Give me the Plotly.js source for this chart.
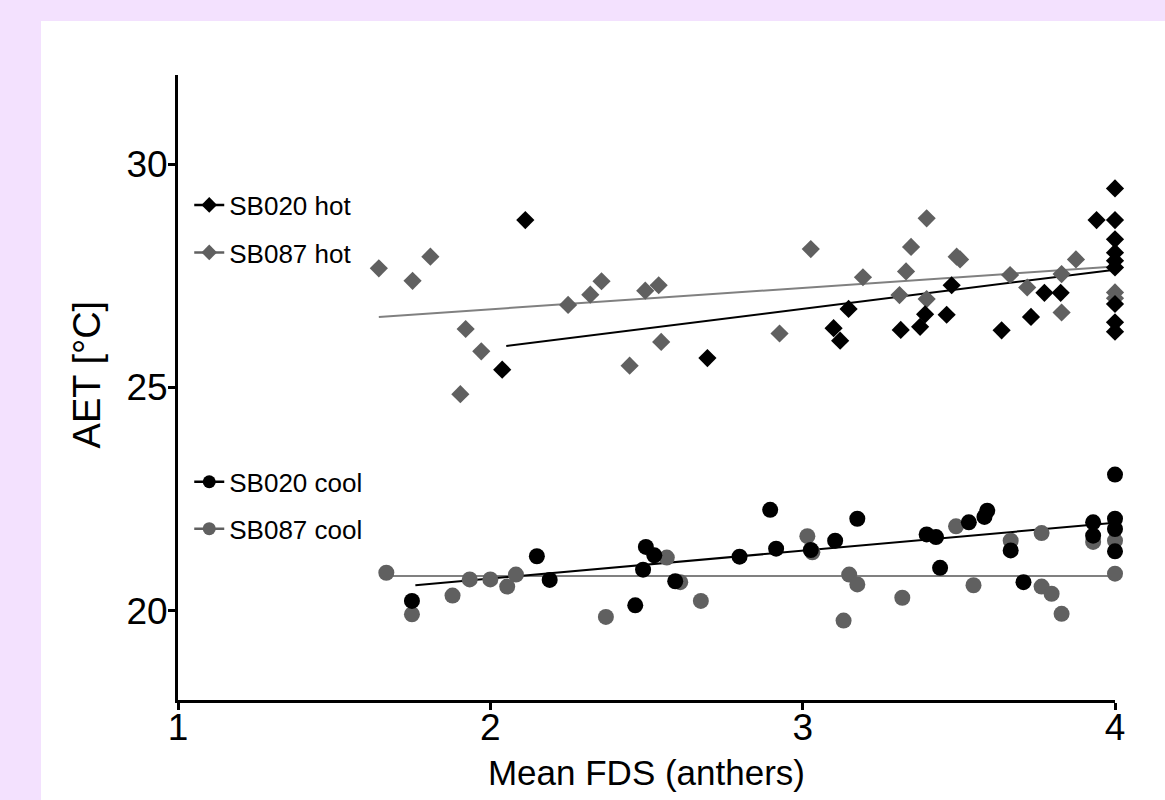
<!DOCTYPE html>
<html>
<head>
<meta charset="utf-8">
<script src="https://cdn.plot.ly/plotly-3.0.1.min.js"></script>
<style>
  html, body { margin: 0; padding: 0; width: 1165px; height: 800px; background: #F3E1FE; overflow: hidden; }
  #chart { position: absolute; left: 41px; top: 21px; width: 1124px; height: 779px; background: #ffffff; }
</style>
</head>
<body>
<div id="chart"></div>
<script>
// ---- data ----
const sb020HotX = [2.038, 2.112, 2.695, 3.099, 3.120, 3.147, 3.314, 3.376, 3.392, 3.461, 3.477, 3.637, 3.731, 3.774, 3.826, 3.941, 4, 4, 4, 4, 4, 4, 4, 4, 4];
const sb020HotY = [25.40, 28.75, 25.66, 26.33, 26.05, 26.76, 26.29, 26.36, 26.64, 26.63, 27.29, 26.28, 26.58, 27.12, 27.12, 28.75, 29.46, 28.75, 28.32, 28.02, 27.84, 27.69, 26.87, 26.46, 26.25];

const sb087HotX = [1.643, 1.751, 1.808, 1.921, 1.971, 1.904, 2.249, 2.320, 2.356, 2.496, 2.539, 2.547, 2.446, 2.926, 3.026, 3.193, 3.310, 3.331, 3.347, 3.397, 3.397, 3.493, 3.504, 3.664, 3.719, 3.829, 3.829, 3.875, 4, 4];
const sb087HotY = [27.67, 27.39, 27.93, 26.31, 25.81, 24.85, 26.85, 27.08, 27.38, 27.17, 27.29, 26.02, 25.49, 26.21, 28.10, 27.47, 27.07, 27.60, 28.15, 28.79, 26.98, 27.93, 27.87, 27.52, 27.24, 27.54, 26.68, 27.87, 27.13, 27.00];

const sb020CoolX = [1.749, 2.149, 2.190, 2.464, 2.489, 2.498, 2.525, 2.592, 2.798, 2.896, 2.915, 3.026, 3.104, 3.175, 3.397, 3.427, 3.440, 3.532, 3.582, 3.591, 3.666, 3.707, 3.930, 3.930, 4, 4, 4, 4];
const sb020CoolY = [20.22, 21.22, 20.69, 20.12, 20.92, 21.43, 21.24, 20.66, 21.21, 22.26, 21.39, 21.36, 21.57, 22.06, 21.71, 21.65, 20.96, 21.98, 22.10, 22.24, 21.35, 20.64, 21.98, 21.68, 23.05, 22.06, 21.83, 21.33];

const sb087CoolX = [1.667, 1.749, 1.879, 1.934, 2.000, 2.054, 2.082, 2.370, 2.565, 2.608, 2.674, 3.015, 3.031, 3.149, 3.175, 3.131, 3.319, 3.491, 3.547, 3.666, 3.765, 3.765, 3.797, 3.829, 3.930, 4, 4];
const sb087CoolY = [20.85, 19.92, 20.34, 20.70, 20.70, 20.54, 20.81, 19.86, 21.19, 20.64, 20.22, 21.67, 21.31, 20.81, 20.59, 19.78, 20.29, 21.89, 20.57, 21.57, 21.74, 20.54, 20.38, 19.93, 21.54, 21.57, 20.83];

// fitted lines (end points)
const fit020HotX = [2.051, 4];   const fit020HotY = [25.93, 27.64];
const fit087HotX = [1.643, 4];   const fit087HotY = [26.58, 27.71];
const fit020CoolX = [1.760, 4];  const fit020CoolY = [20.57, 21.97];
const fit087CoolX = [1.667, 4];  const fit087CoolY = [20.78, 20.78];

const seriesNames = ['SB020 hot', 'SB087 hot', 'SB020 cool', 'SB087 cool'];
const xTicks = [1, 2, 3, 4];
const yTicks = [20, 25, 30];
const xTitle = 'Mean FDS (anthers)';
const yTitle = 'AET [°C]';

// ---- styling ----
const BLACK = '#000000';
const GRAY = '#606060';
const GRAYLINE = '#808080';
const FONT = 'Liberation Sans, Arial, sans-serif';

function pts(x, y, sym, size, color) {
  return { type: 'scatter', mode: 'markers', x: x, y: y, showlegend: false, cliponaxis: false,
           hoverinfo: 'x+y', marker: { symbol: sym, size: size, color: color, line: { width: 0 } } };
}
function fit(x, y, color) {
  return { type: 'scatter', mode: 'lines', x: x, y: y, showlegend: false, cliponaxis: false,
           hoverinfo: 'skip', line: { color: color, width: 2 } };
}
function leg(name, sym, size, color, legendId) {
  return { type: 'scatter', mode: 'lines+markers', x: [null], y: [null], name: name, legend: legendId,
           marker: { symbol: sym, size: size, color: color, line: { width: 0 } },
           line: { color: color, width: 2.5 } };
}

const traces = [
  fit(fit087HotX, fit087HotY, GRAYLINE),
  fit(fit020HotX, fit020HotY, BLACK),
  fit(fit087CoolX, fit087CoolY, GRAYLINE),
  fit(fit020CoolX, fit020CoolY, BLACK),
  pts(sb087HotX, sb087HotY, 'diamond', 14, GRAY),
  pts(sb020HotX, sb020HotY, 'diamond', 14, BLACK),
  pts(sb087CoolX, sb087CoolY, 'circle', 16, GRAY),
  pts(sb020CoolX, sb020CoolY, 'circle', 16, BLACK),
  leg(seriesNames[0], 'diamond', 12, BLACK, 'legend'),
  leg(seriesNames[1], 'diamond', 12, GRAY, 'legend2'),
  leg(seriesNames[2], 'circle', 13, BLACK, 'legend3'),
  leg(seriesNames[3], 'circle', 13, GRAY, 'legend4')
];

function legendAt(y) {
  return { x: 0.012, xanchor: 'left', y: y, yanchor: 'middle', bgcolor: 'rgba(0,0,0,0)',
           borderwidth: 0, font: { family: FONT, size: 26, color: '#000' } };
}

const layout = {
  width: 1124, height: 779,
  margin: { l: 137, r: 50, t: 54, b: 100 },
  paper_bgcolor: '#ffffff', plot_bgcolor: '#ffffff',
  font: { family: FONT, color: '#000' },
  xaxis: {
    range: [1, 4], tickmode: 'array', tickvals: xTicks, ticktext: xTicks.map(String),
    showgrid: false, zeroline: false, showline: true, linecolor: '#000', linewidth: 3,
    ticks: 'outside', ticklen: 7, tickwidth: 3, tickcolor: '#000', ticklabelstandoff: -14,
    tickfont: { family: FONT, size: 37, color: '#000' },
    title: { text: xTitle, font: { family: FONT, size: 35, color: '#000' }, standoff: 14 }
  },
  yaxis: {
    range: [18, 32], tickmode: 'array', tickvals: yTicks, ticktext: yTicks.map(String),
    showgrid: false, zeroline: false, showline: true, linecolor: '#000', linewidth: 3,
    ticks: 'outside', ticklen: 7, tickwidth: 3, tickcolor: '#000', ticklabelstandoff: -7,
    tickfont: { family: FONT, size: 37, color: '#000' }
  },
  annotations: [{
    text: yTitle, xref: 'paper', yref: 'paper', x: 0, y: 0.521, xanchor: 'center', yanchor: 'middle',
    xshift: -91, textangle: -90, showarrow: false,
    font: { family: FONT, size: 38, color: '#000' }
  }],
  legend: legendAt(0.792),
  legend2: legendAt(0.716),
  legend3: legendAt(0.349),
  legend4: legendAt(0.274),
  showlegend: true
};

Plotly.newPlot('chart', traces, layout, { displayModeBar: false, staticPlot: true });
</script>
</body>
</html>
